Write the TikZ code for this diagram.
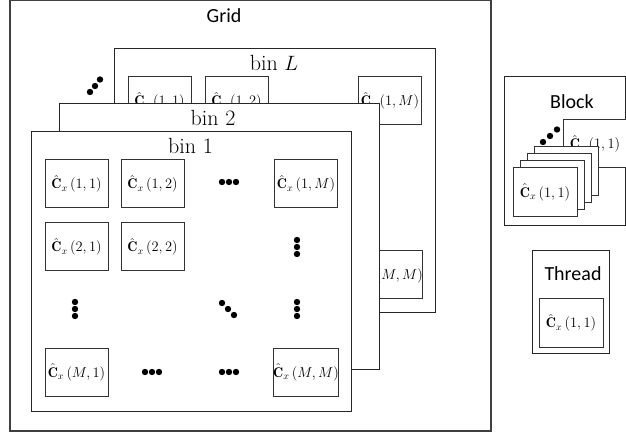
\documentclass[tikz,border=0pt]{standalone}
\usepackage{fontspec}
\usepackage{amsmath}
\newfontfamily\labelfont{Carlito}
\begin{document}
\begin{tikzpicture}[x=1pt,y=-1pt,
  framebox/.style={draw=black!85,line width=1pt,fill=white},
  cell/.style={draw=black!80,line width=1pt,fill=white,minimum width=63pt,minimum height=48pt,inner sep=0pt,font=\fontsize{14}{16}\selectfont},
  sanslabel/.style={font=\labelfont\fontsize{20}{23}\selectfont,anchor=base,inner sep=0pt},
  binlabel/.style={font=\fontsize{22}{26}\selectfont,anchor=base,inner sep=0pt},
  dot/.style={circle,fill=black,inner sep=0pt,minimum size=6.4pt}]
\useasboundingbox (0,0) rectangle (626,435);
% Grid
\draw[draw=black!75,line width=1.3pt] (10,0.7) rectangle (491,431);
\node[sanslabel] (gridlbl) at (224,22.3) {Grid};
% ellipsis before bin L
\node[dot] (el1) at (90,92) {};
\node[dot] (el2) at (95,86) {};
\node[dot] (el3) at (100,79.5) {};
% bin L
\draw[framebox] (114,49) rectangle (435,313);
\node[binlabel] (lblL) at (274,70.7) {bin $L$};
\node[cell] (L11) at (159.5,101) {$\hat{\mathbf{C}}_x\left(1,1\right)$};
\node[cell] (L12) at (236.5,101) {$\hat{\mathbf{C}}_x\left(1,2\right)$};
\node[cell] (L1M) at (390,101) {$\hat{\mathbf{C}}_x\left(1,M\right)$};
\node[cell] (LMM) at (390,275) {$\hat{\mathbf{C}}_x\left(M,M\right)$};
% bin 2
\draw[framebox] (59,104) rectangle (379,369);
\node[binlabel] (lbl2) at (213,126) {bin 2};
% bin 1
\draw[framebox] (31,132) rectangle (351,411);
\node[binlabel] (lbl1) at (190.5,153.3) {bin 1};
\node[cell] (a11) at (76.5,184) {$\hat{\mathbf{C}}_x\left(1,1\right)$};
\node[cell] (a12) at (152.5,184) {$\hat{\mathbf{C}}_x\left(1,2\right)$};
\node[cell] (a1M) at (306,184) {$\hat{\mathbf{C}}_x\left(1,M\right)$};
\node[cell] (a21) at (76.5,247) {$\hat{\mathbf{C}}_x\left(2,1\right)$};
\node[cell] (a22) at (152.5,247) {$\hat{\mathbf{C}}_x\left(2,2\right)$};
\node[cell] (aM1) at (76.5,372.5) {$\hat{\mathbf{C}}_x\left(M,1\right)$};
\node[cell] (aMM) at (306,372.5) {$\hat{\mathbf{C}}_x\left(M,M\right)$};
% dots row 1
\foreach \i/\x in {1/222,2/229,3/236} \node[dot] (h1\i) at (\x,182) {};
% dots row 2 (vertical, col M)
\foreach \i/\y in {1/240,2/247,3/254} \node[dot] (v2\i) at (297,\y) {};
% row 3
\foreach \i/\y in {1/302,2/309,3/316} \node[dot] (v31\i) at (75,\y) {};
\foreach \i/\y in {1/302,2/309,3/316} \node[dot] (v3M\i) at (297,\y) {};
\node[dot] (d1) at (222,303) {};
\node[dot] (d2) at (228,309) {};
\node[dot] (d3) at (234,315) {};
% row M
\foreach \i/\x in {1/145,2/152,3/159} \node[dot] (hM\i) at (\x,372) {};
\foreach \i/\x in {1/222,2/229,3/236} \node[dot] (hN\i) at (\x,372) {};
% Block
\draw[framebox] (504,77) rectangle (625.5,226);
\node[sanslabel] (blocklbl) at (572,108.3) {Block};
\node[cell,minimum width=64pt,minimum height=48pt] (bback) at (595,144) {$\hat{\mathbf{C}}_x\left(1,1\right)$};
\node[dot] (be1) at (543,142) {};
\node[dot] (be2) at (550,136) {};
\node[dot] (be3) at (557,129.5) {};
\node[cell,minimum width=64pt,minimum height=49pt] (bl3) at (566,171.5) {};
\node[cell,minimum width=64pt,minimum height=49pt] (bl2) at (559,178.5) {};
\node[cell,minimum width=64pt,minimum height=49pt] (bl1) at (552,185.5) {};
\node[cell,minimum width=64pt,minimum height=49pt] (bfront) at (545,192.5) {$\hat{\mathbf{C}}_x\left(1,1\right)$};
% Thread
\draw[framebox] (532,251) rectangle (609,353);
\node[sanslabel] (threadlbl) at (573,280.7) {Thread};
\node[cell,minimum width=64pt,minimum height=48pt] (tcell) at (571,323) {$\hat{\mathbf{C}}_x\left(1,1\right)$};
\end{tikzpicture}
\end{document}
